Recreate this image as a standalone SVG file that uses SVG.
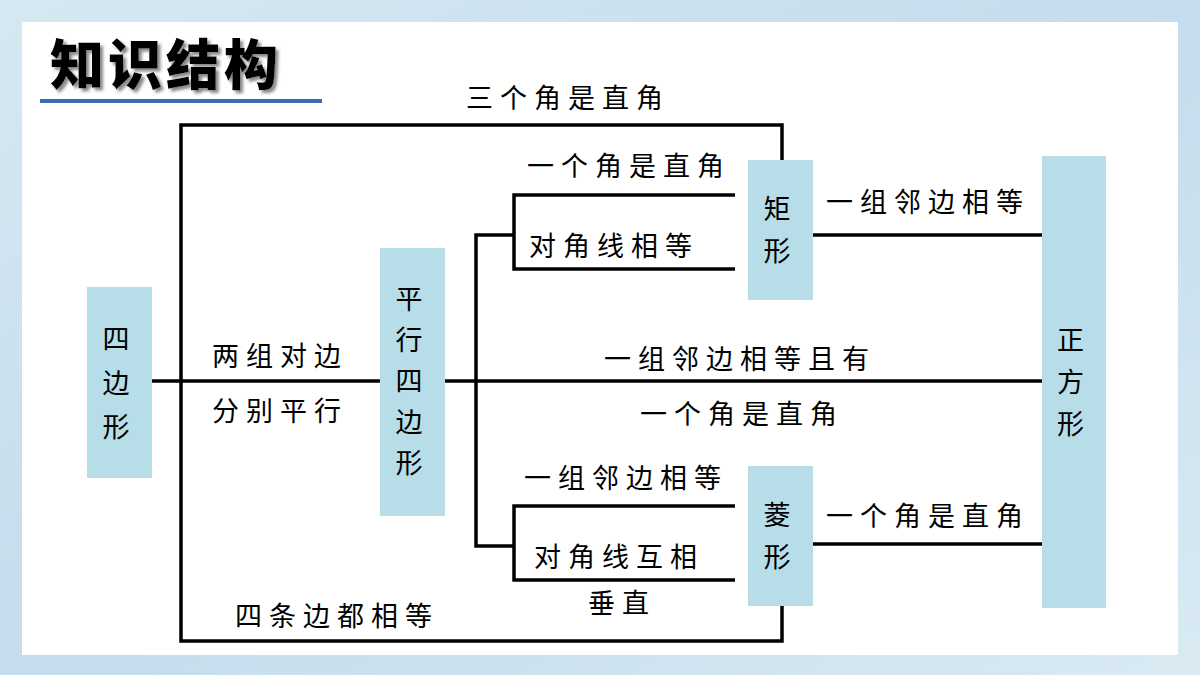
<svg xmlns="http://www.w3.org/2000/svg" width="1200" height="675" viewBox="0 0 1200 675">
<defs>
<linearGradient id="bg" x1="0" y1="0" x2="1" y2="1"><stop offset="0" stop-color="#d6e8f2"/><stop offset="0.5" stop-color="#c4dced"/><stop offset="1" stop-color="#d9eaf3"/></linearGradient>
<filter id="sh"><feDropShadow dx="3" dy="3" stdDeviation="1.5" flood-color="#888"/></filter>
</defs>
<style>
.box{fill:#b7dde8}
.t{font-family:"Noto Sans CJK SC","Noto Sans",sans-serif;font-size:27px;fill:#000;letter-spacing:7px}
.ln{fill:none;stroke:#000;stroke-width:3.5}
</style>
<rect width="1200" height="675" fill="url(#bg)"/>
<rect x="22" y="22" width="1156" height="633" fill="#fff"/>
<text x="50" y="85" font-family="'Noto Sans CJK SC',sans-serif" font-weight="900" font-size="54" letter-spacing="4" filter="url(#sh)">知识结构</text>
<line x1="40" y1="101" x2="322" y2="101" stroke="#3a6db5" stroke-width="4"/>
<g id="connectors" class="ln">
<polyline points="782,160 782,125 181,125 181,641 782,641 782,606"/>
<line x1="152" y1="381" x2="380" y2="381"/>
<line x1="445" y1="381" x2="1042" y2="381"/>
<polyline points="476,381 476,235 514,235"/>
<polyline points="476,381 476,546 514,546"/>
<polyline points="735,195 514,195 514,269 735,269"/>
<polyline points="735,506 514,506 514,580 735,580"/>
<line x1="813" y1="235" x2="1042" y2="235"/>
<line x1="813" y1="544" x2="1042" y2="544"/>
</g>
<g id="labels" class="t">
<text x="466" y="108">三个角是直角</text>
<text x="527" y="176">一个角是直角</text>
<text x="529" y="256">对角线相等</text>
<text x="826" y="212">一组邻边相等</text>
<text x="212" y="366">两组对边</text>
<text x="212" y="421">分别平行</text>
<text x="604" y="369">一组邻边相等且有</text>
<text x="640" y="424">一个角是直角</text>
<text x="524" y="488">一组邻边相等</text>
<text x="826" y="526">一个角是直角</text>
<text x="534" y="567">对角线互相</text>
<text x="588" y="613">垂直</text>
<text x="235" y="626">四条边都相等</text>
</g>
<g id="n-quad"><rect class="box" x="87" y="287" width="65" height="191"/><text class="t" text-anchor="middle" letter-spacing="0"><tspan x="119.5" y="349">四</tspan><tspan x="119.5" y="393">边</tspan><tspan x="119.5" y="437">形</tspan></text></g>
<g id="n-para"><rect class="box" x="380" y="248" width="65" height="268"/><text class="t" text-anchor="middle" letter-spacing="0"><tspan x="412.5" y="309">平</tspan><tspan x="412.5" y="350">行</tspan><tspan x="412.5" y="391">四</tspan><tspan x="412.5" y="432">边</tspan><tspan x="412.5" y="473">形</tspan></text></g>
<g id="n-rect"><rect class="box" x="748" y="160" width="65" height="140"/><text class="t" text-anchor="middle" letter-spacing="0"><tspan x="780.5" y="219">矩</tspan><tspan x="780.5" y="261">形</tspan></text></g>
<g id="n-rhomb"><rect class="box" x="748" y="466" width="65" height="140"/><text class="t" text-anchor="middle" letter-spacing="0"><tspan x="780.5" y="525">菱</tspan><tspan x="780.5" y="567">形</tspan></text></g>
<g id="n-square"><rect class="box" x="1042" y="156" width="64" height="452"/><text class="t" text-anchor="middle" letter-spacing="0"><tspan x="1074" y="350">正</tspan><tspan x="1074" y="392">方</tspan><tspan x="1074" y="434">形</tspan></text></g>
</svg>
